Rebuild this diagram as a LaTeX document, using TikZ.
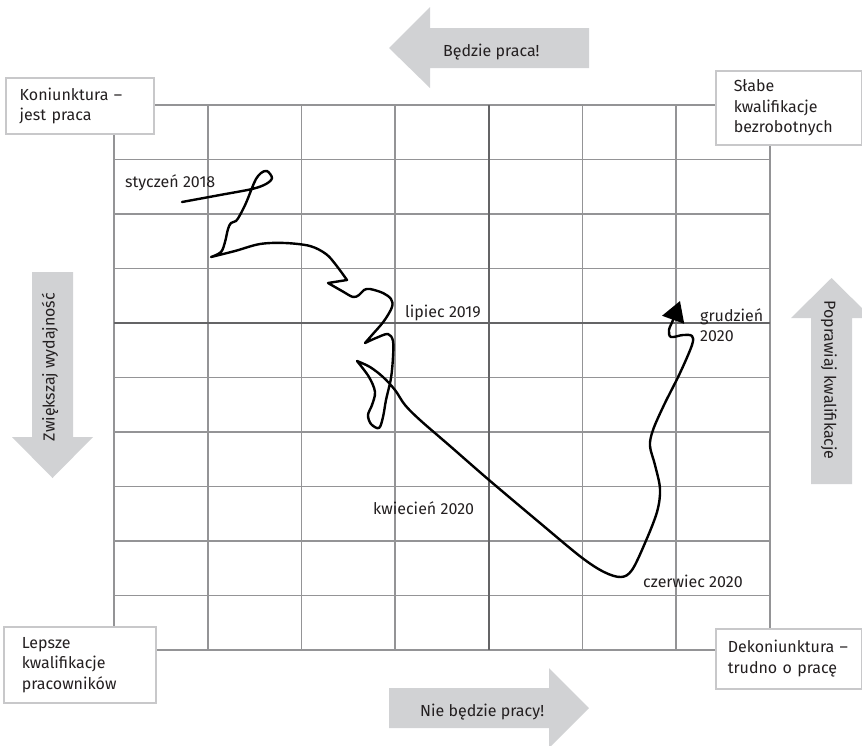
\documentclass[tikz,border=0pt]{standalone}
\usepackage{fontspec}
\setmainfont{Fira Sans}
\usetikzlibrary{arrows.meta, positioning}
\definecolor{gridGray}{RGB}{148,148,150}
\definecolor{axisGray}{RGB}{100,100,102}
\definecolor{boxGray}{RGB}{200,200,202}
\definecolor{arrowGray}{RGB}{209,210,212}
\definecolor{inkBlack}{RGB}{35,31,32}

\begin{document}
\begin{tikzpicture}[
        x=1pt, y=-1pt,
        grid/.style={draw=gridGray, line width=1.8pt},
        axis/.style={draw=axisGray, line width=1.8pt},
        corner/.style={rectangle, draw=boxGray, fill=white, line width=1.5pt, align=left, anchor=north west, inner ysep=0pt, font=\fontsize{16}{20.5}\selectfont, text=inkBlack},
        date/.style={font=\fontsize{16}{20.5}\selectfont, text=inkBlack, inner sep=0pt},
        bigarrow/.style={fill=arrowGray},
        arrowtext/.style={font=\fontsize{16}{20.5}\selectfont, text=inkBlack, inner sep=0pt},
        trend/.style={draw=black, line width=2.4pt, line join=round, line cap=round}
    ]
        \useasboundingbox (0,0) rectangle (862,745);

        % Big grey arrows
        \fill[bigarrow] (389,48) -- (430,7) -- (430,28) -- (589,28) -- (589,68) -- (430,68) -- (430,88) -- cycle;
        \fill[bigarrow] (589,708) -- (549,668) -- (549,688) -- (389,688) -- (389,728) -- (549,728) -- (549,748) -- cycle;
        \fill[bigarrow] (52.5,478) -- (12,437) -- (32,437) -- (32,272) -- (73,272) -- (73,437) -- (93,437) -- cycle;
        \fill[bigarrow] (831.5,278) -- (791,318) -- (811,318) -- (811,484) -- (852,484) -- (852,318) -- (872,318) -- cycle;

        \node[arrowtext, anchor=base west] (jestPraca) at (443,56) {Będzie praca!};
        \node[arrowtext, anchor=base west] (brakPracy) at (420,716) {Nie będzie pracy!};
        \node[arrowtext, rotate=90] (wydajnosc) at (50,367) {Zwiększaj wydajność};
        \node[arrowtext, rotate=-90] (kwalifikacje) at (829,380) {Poprawiaj kwalifikacje};

        % Grid
        \foreach \i in {0,...,7}
            \draw[grid] ({114+\i*93.714},105) -- ({114+\i*93.714},650);
        \foreach \j in {0,...,10}
            \draw[grid] (114,{105+\j*54.5}) -- (770,{105+\j*54.5});
        \draw[axis] (489,105) -- (489,650);
        \draw[axis] (114,323) -- (770,323);

        % Corner boxes
        \node[corner, inner xsep=14pt, text width=120pt, minimum height=56pt] (konj) at (5,77) {Koniunktura –\\jest praca};
        \node[corner, inner xsep=18pt, text width=110pt, minimum height=74pt] (slabe) at (715,70) {Słabe\\kwalifikacje\\bezrobotnych};
        \node[corner, inner xsep=18pt, text width=116pt, minimum height=76pt] (lepsze) at (3,626) {Lepsze\\kwalifikacje\\pracowników};
        \node[corner, inner xsep=12pt, text width=122pt, minimum height=60pt] (dekonj) at (715,628) {Dekoniunktura –\\trudno o pracę};

        % Trend line
        \draw[trend, -{Triangle[length=20pt, width=23pt]}]
            plot[smooth, tension=0.55] coordinates {(182,202) (220,195) (252,189) (266,184) (272,178) (267,171) (261,173) (256,179) (252,188) (246,203) (240,215) (236,221) (231,223) (228,229) (225,242) (221,252) (211,257)}
            -- plot[smooth, tension=0.55] coordinates {(211,257) (235,251) (260,244) (285,243) (310,246) (326,254) (336,265) (347,280)}
            -- (328,283)
            -- plot[smooth, tension=0.55] coordinates {(328,283) (342,291) (353,297) (359,295) (364,290) (370,289) (383,293) (391,299) (392,307) (384,321) (372,335) (365,343)}
            -- plot[smooth, tension=0.55] coordinates {(365,343) (376,338) (388,334) (393,341) (393,357) (391,378) (386,400) (383,417) (379,428) (371,424) (368,415) (372,405) (375,392) (369,377) (357,361)}
            -- plot[smooth, tension=0.55] coordinates {(357,361) (370,367) (383,377) (395,390) (405,405) (420,420) (450,446) (489,480) (540,523) (581,557) (604,572) (621,577) (632,570) (645,543) (657,512) (660,489) (655,465) (650,446) (653,430) (664,405) (680,373) (692,345) (692,336) (683,335) (671,337) (669,330) (673,320) (680,301)};

        % Dates
        \node[date, anchor=base west] (jan18) at (125,187) {styczeń 2018};
        \node[date, anchor=base west] (jul19) at (405,317) {lipiec 2019};
        \node[date, anchor=base west] (apr20) at (373,514) {kwiecień 2020};
        \node[date, anchor=base west] (jun20) at (643,587) {czerwiec 2020};
        \node[date, anchor=north west, align=left] (dec20) at (700,308) {grudzień\\2020};
    \end{tikzpicture}
\end{document}
